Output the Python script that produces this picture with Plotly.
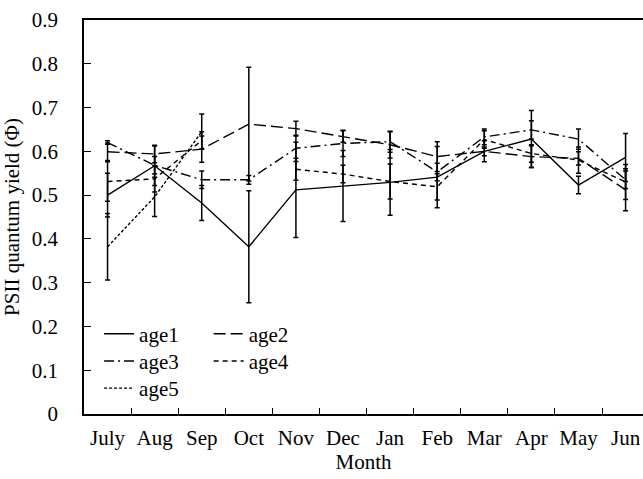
import plotly.graph_objects as go

months = ["July", "Aug", "Sep", "Oct", "Nov", "Dec", "Jan", "Feb", "Mar", "Apr", "May", "Jun"]

age1 = [0.500, 0.567, 0.482, 0.382, 0.512, 0.521, 0.529, 0.541, 0.600, 0.628, 0.523, 0.586]
age1_err = [0.050, 0.045, 0.040, 0.128, 0.109, 0.081, 0.075, 0.070, 0.024, 0.065, 0.020, 0.055]

age2 = [0.599, 0.594, 0.605, 0.662, 0.652, 0.634, 0.615, 0.588, 0.600, 0.588, 0.584, 0.512]
age2_err = [0.020, 0.020, 0.030, 0.130, 0.017, 0.013, 0.030, 0.034, 0.010, 0.025, 0.015, 0.048]

age3 = [0.620, 0.568, 0.535, 0.535, 0.607, 0.618, 0.622, 0.553, 0.633, 0.649, 0.628, 0.535]
age3_err = [0.004, 0.020, 0.020, 0.010, 0.030, 0.030, 0.024, 0.020, 0.018, 0.021, 0.023, 0.020]

age4 = [0.531, 0.537, 0.625, None, 0.559, 0.548, 0.531, 0.519, 0.627, 0.595, 0.580, 0.530]
age4_err = [0.045, 0.030, 0.020, 0.0, 0.025, 0.020, 0.040, 0.030, 0.020, 0.020, 0.030, 0.040]

age5 = [0.382, 0.496, 0.645, None, None, None, None, None, None, None, None, None]
age5_err = [0.076, 0.045, 0.040, 0, 0, 0, 0, 0, 0, 0, 0, 0]

FONT = "Liberation Serif, Times New Roman, serif"
FS = 21

series = [
    ("age1", age1, age1_err, "solid", "legend"),
    ("age2", age2, age2_err, "12px,5px", "legend2"),
    ("age3", age3, age3_err, "10px,4px,2px,4px", "legend3"),
    ("age4", age4, age4_err, "5px,4px", "legend4"),
    ("age5", age5, age5_err, "3px,2px", "legend5"),
]

fig = go.Figure()
for name, vals, errs, dash, leg in series:
    fig.add_trace(go.Scatter(
        x=months, y=vals, name=name, mode="lines",
        line=dict(color="black", width=1.4, dash=dash),
        error_y=dict(type="data", array=errs, visible=True,
                     color="black", thickness=1.5, width=2.5),
        legend=leg,
    ))

def leg(xp, yp):
    return dict(x=xp, y=yp, xanchor="left", yanchor="middle",
                bgcolor="rgba(0,0,0,0)", borderwidth=0,
                font=dict(family=FONT, size=FS, color="black"))

fig.update_layout(
    width=643, height=479,
    margin=dict(l=84, r=0, t=20, b=65),
    paper_bgcolor="white", plot_bgcolor="white",
    font=dict(family=FONT, size=FS, color="black"),
    showlegend=True,
    legend=leg(0.027, 0.2027),
    legend2=leg(0.223, 0.2027),
    legend3=leg(0.027, 0.1337),
    legend4=leg(0.223, 0.1337),
    legend5=leg(0.027, 0.0647),
    xaxis=dict(
        type="category", categoryorder="array", categoryarray=months,
        range=[-0.5, 11.37], tickangle=0, automargin=False,
        showline=True, linecolor="black", linewidth=1.5, mirror=True,
        ticks="inside", ticklen=6, tickwidth=1, tickcolor="black",
        tickson="boundaries", showgrid=False, zeroline=False,
        tickfont=dict(family=FONT, size=FS, color="black"),
        ticklabelstandoff=4,
        title=dict(text="Month", font=dict(family=FONT, size=FS), standoff=2),
    ),
    yaxis=dict(
        range=[0, 0.9], dtick=0.1, tick0=0, automargin=False,
        showline=True, linecolor="black", linewidth=1.5, mirror=False,
        ticks="inside", ticklen=7, tickwidth=1, tickcolor="black",
        showgrid=False, zeroline=False,
        tickfont=dict(family=FONT, size=FS, color="black"),
        ticklabelstandoff=20,
        title=dict(text="PSII quantum yield (Φ)", font=dict(family=FONT, size=FS), standoff=6),
    ),
)

fig.write_html("out.html")
